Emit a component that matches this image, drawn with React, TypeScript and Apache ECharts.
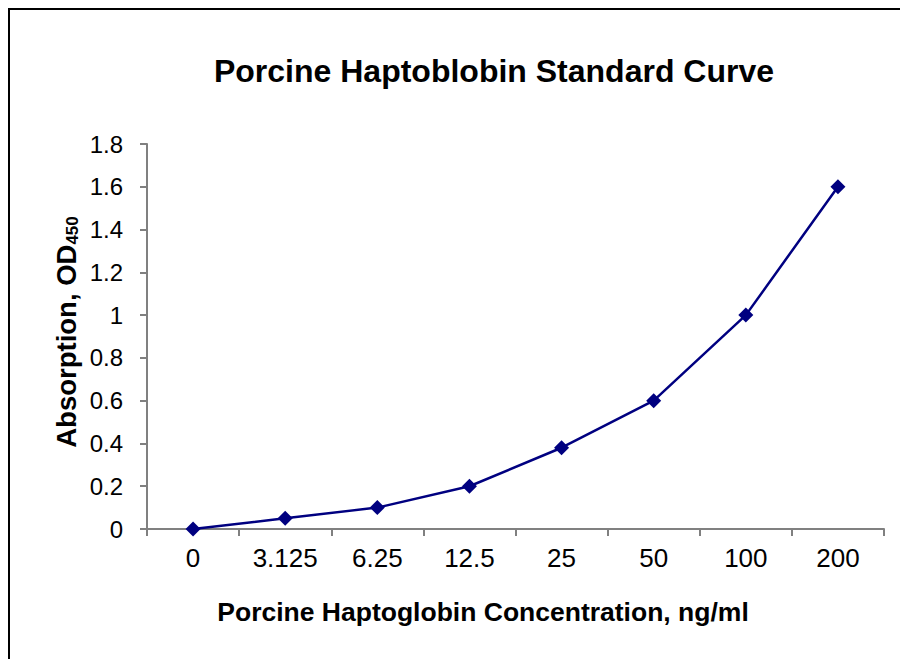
import React, { useEffect, useRef } from "react";
import * as echarts from "echarts";

const categories = ["0", "3.125", "6.25", "12.5", "25", "50", "100", "200"];
const absorbance = [0, 0.05, 0.1, 0.2, 0.38, 0.6, 1.0, 1.6];
const titleText = "Porcine Haptoblobin Standard Curve";
const xName = "Porcine Haptoglobin Concentration, ng/ml";

export default function App() {
  const ref = useRef<HTMLDivElement>(null);
  useEffect(() => {
    if (!ref.current) return;
    const chart = echarts.init(ref.current, null, { renderer: "svg" });
    const font = "Arial, 'Liberation Sans', Helvetica, sans-serif";
    chart.setOption({
      animation: false,
      backgroundColor: "#ffffff",
      textStyle: { fontFamily: font },
      grid: { left: 147, right: 16, top: 144, bottom: 130 },
      xAxis: {
        type: "category",
        data: categories,
        boundaryGap: true,
        axisLine: { lineStyle: { color: "#808080", width: 2 } },
        axisTick: { show: true, length: 7, lineStyle: { color: "#808080", width: 2 } },
        axisLabel: { color: "#000", fontSize: 26, margin: 16, fontFamily: font },
        splitLine: { show: false },
      },
      yAxis: {
        type: "value",
        min: 0,
        max: 1.8,
        interval: 0.2,
        axisLine: { show: true, lineStyle: { color: "#808080", width: 2 } },
        axisTick: { show: true, length: 7, lineStyle: { color: "#808080", width: 2 } },
        axisLabel: { color: "#000", fontSize: 24, margin: 24, fontFamily: font },
        splitLine: { show: false },
      },
      series: [
        {
          type: "line",
          data: absorbance,
          symbol: "diamond",
          symbolSize: 15,
          itemStyle: { color: "#000080" },
          lineStyle: { color: "#000080", width: 2.5 },
        },
      ],
      graphic: [
        {
          type: "rect",
          shape: { x: 9, y: 9, width: 1000, height: 800 },
          style: { fill: "none", stroke: "#000", lineWidth: 2 },
          silent: true,
        },
        {
          type: "text",
          x: 494,
          y: 71,
          style: {
            text: titleText,
            fontSize: 32,
            fontWeight: "bold",
            fontFamily: font,
            fill: "#000",
            align: "center",
            verticalAlign: "middle",
          },
        },
        {
          type: "text",
          x: 483,
          y: 612,
          style: {
            text: xName,
            fontSize: 26.5,
            fontWeight: "bold",
            fontFamily: font,
            fill: "#000",
            align: "center",
            verticalAlign: "middle",
          },
        },
        {
          type: "text",
          x: 66,
          y: 332,
          rotation: Math.PI / 2,
          style: {
            text: "Absorption, OD{sub|450}",
            fontSize: 27.5,
            fontWeight: "bold",
            fontFamily: font,
            fill: "#000",
            align: "center",
            verticalAlign: "middle",
            rich: {
              sub: {
                fontSize: 17,
                fontWeight: "bold",
                fontFamily: font,
                fill: "#000",
                verticalAlign: "bottom",
                padding: [13, 0, 0, 0],
              },
            },
          },
        },
      ],
    });
    return () => chart.dispose();
  }, []);
  return (
    <div
      ref={ref}
      style={{ position: "fixed", left: 0, top: 0, width: 900, height: 659 }}
    />
  );
}
